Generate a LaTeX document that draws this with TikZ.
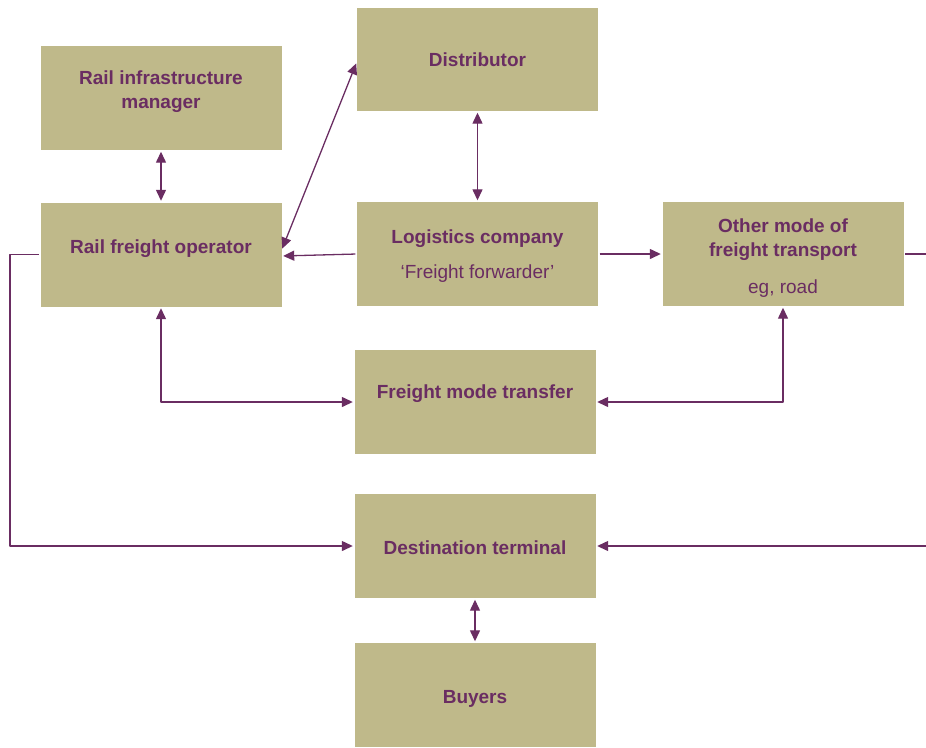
\documentclass[tikz,border=0pt]{standalone}
\usepackage{fontspec}
\setmainfont{Liberation Sans}
\usetikzlibrary{arrows.meta}
\definecolor{khaki}{RGB}{191,185,138}
\definecolor{plum}{RGB}{106,45,98}
\begin{document}
\begin{tikzpicture}[x=1pt,y=-1pt, line join=round,
  blok/.style={fill=khaki, minimum width=241pt, minimum height=104pt, inner sep=0pt},
  lbl/.style={text=plum, font=\fontsize{19}{24}\selectfont\bfseries, align=center},
  sub/.style={text=plum, font=\fontsize{19}{24}\selectfont},
  con/.style={draw=plum, line width=1.3pt, >={Triangle[length=11pt,width=10pt]}, shorten <=1.5pt, shorten >=1.5pt}]
\useasboundingbox (0,0) rectangle (926,747);
% Khung
\node[blok] (infra) at (161,98) {};
\node[blok, minimum height=103pt] (dist) at (477.5,59.5) {};
\node[blok] (rfo) at (161,254.5) {};
\node[blok] (logi) at (477.5,254) {};
\node[blok] (other) at (783,254) {};
\node[blok] (fmt) at (475,402) {};
\node[blok] (dest) at (475,546) {};
\node[blok] (buyers) at (475,695) {};
% Chu
\node[lbl] (tinfra) at (161,91.5) {Rail infrastructure\\manager};
\node[lbl] (tdist) at (477.5,59.5) {Distributor};
\node[lbl] (trfo) at (161,248.5) {Rail freight operator};
\node[lbl] (tlogi) at (477.5,238.5) {Logistics company};
\node[sub] (tfwd) at (477.5,273.5) {‘Freight forwarder’};
\node[lbl] (tother) at (783,239.5) {Other mode of\\freight transport};
\node[sub] (tother2) at (783,288.5) {eg, road};
\node[lbl] (tfmt) at (475,394) {Freight mode transfer};
\node[lbl] (tdest) at (475,548) {Destination terminal};
\node[lbl] (tbuyers) at (475,699) {Buyers};
% Diem gap
\coordinate (lbend) at (10,254.5);
\coordinate (rbend) at (940,254);
% Mui ten
\draw[con,<->] (infra) -- (rfo);
\draw[con,<->] (dist) -- (logi);
\draw[con,->] (logi.west) -- ([yshift=-1.5pt]rfo.east);
\draw[con,<->] ([yshift=4.5pt]rfo.east) -- ([yshift=-2.5pt]dist.west);
\draw[con,->] (logi.east) -- (other.west);
\draw[con,<->] (rfo.south) |- (fmt.west);
\draw[con,<->] (other.south) |- (fmt.east);
\draw[con,->] (rfo.west) -- (lbend) |- (dest.west);
\draw[con,->] (other.east) -- (rbend) |- (dest.east);
\draw[con,<->] (dest) -- (buyers);
\end{tikzpicture}
\end{document}
